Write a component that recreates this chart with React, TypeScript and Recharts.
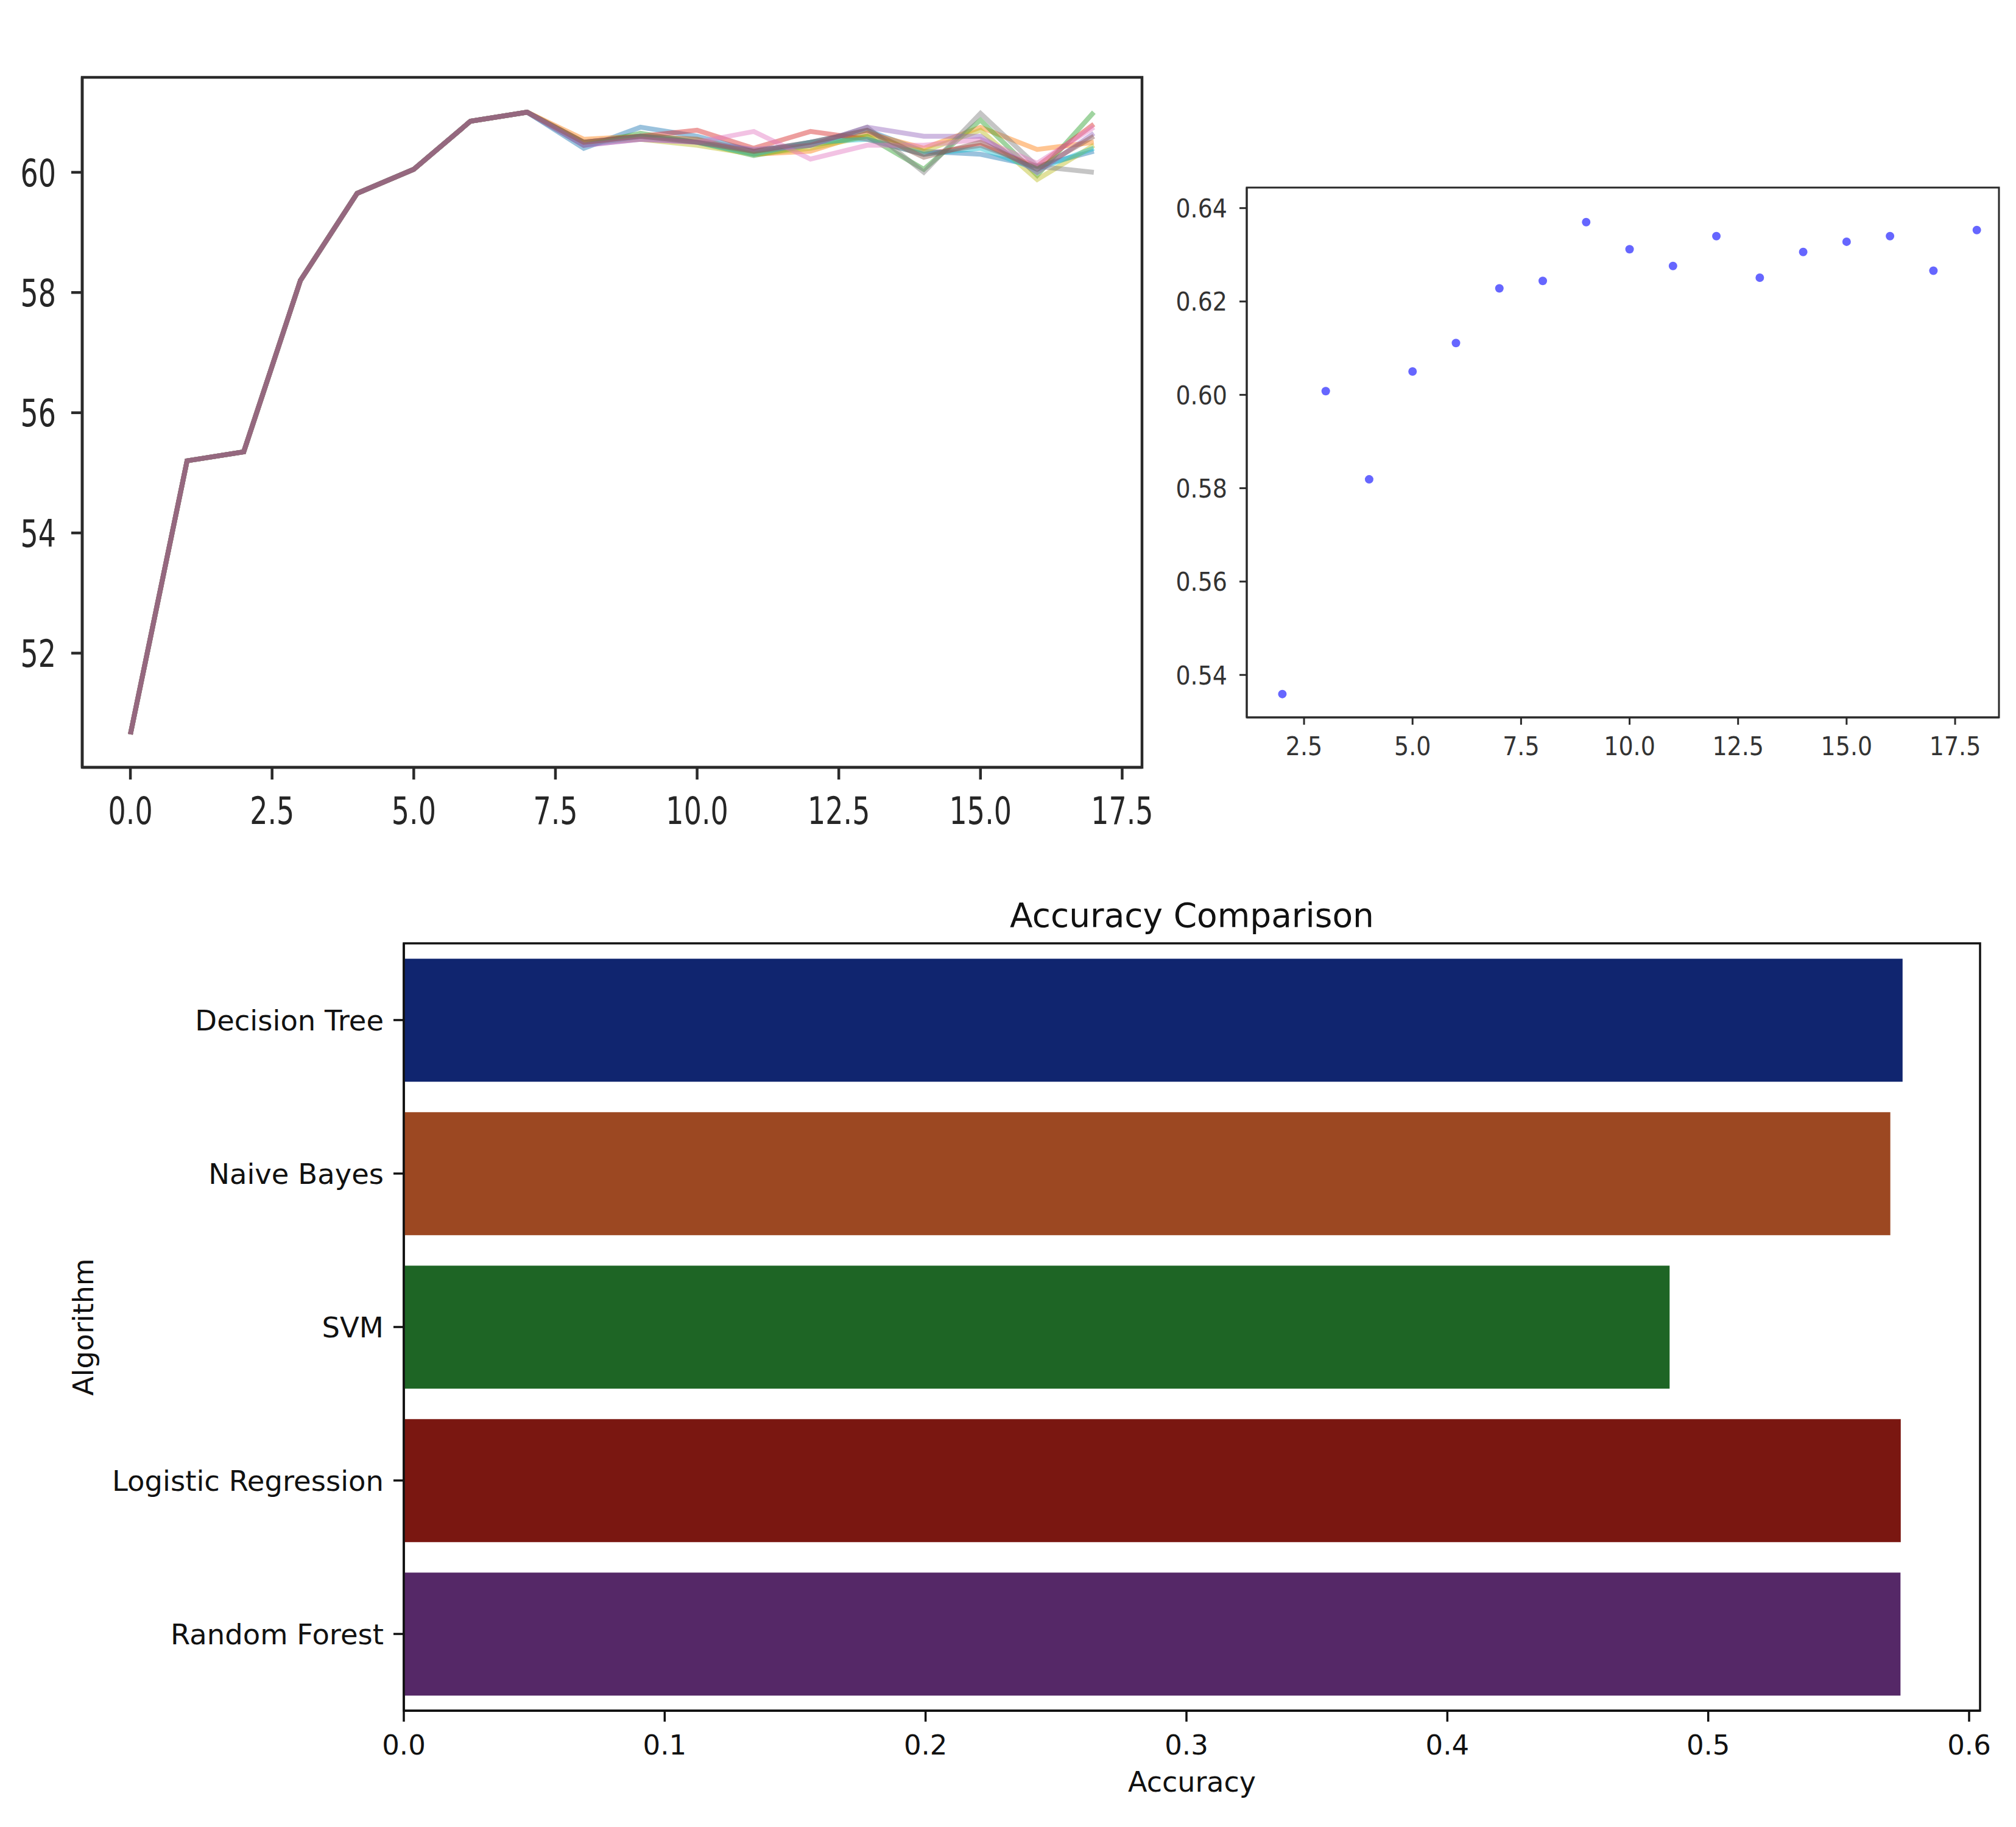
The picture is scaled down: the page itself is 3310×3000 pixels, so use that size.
import React from 'react'
import {
  LineChart, Line, ScatterChart, Scatter, BarChart, Bar, Cell,
  XAxis, YAxis, ReferenceArea,
} from 'recharts'

const FONT = '"DejaVu Sans", sans-serif'

// --- top left: score per step, one line per run ---
const steps = [0, 1, 2, 3, 4, 5, 6, 7, 8, 9, 10, 11, 12, 13, 14, 15, 16, 17]
const warmup = [50.65, 55.2, 55.35, 58.2, 59.65, 60.05, 60.85, 61.0]
const runBlue = [...warmup, 60.4, 60.75, 60.6, 60.35, 60.5, 60.7, 60.35, 60.3, 60.1, 60.35]
const runOrange = [...warmup, 60.55, 60.6, 60.55, 60.3, 60.35, 60.65, 60.4, 60.75, 60.38, 60.5]
const runGreen = [...warmup, 60.45, 60.65, 60.5, 60.28, 60.45, 60.6, 60.05, 60.87, 59.95, 61.0]
const runRed = [...warmup, 60.5, 60.6, 60.7, 60.4, 60.68, 60.55, 60.3, 60.45, 60.1, 60.8]
const runOlive = [...warmup, 60.5, 60.55, 60.45, 60.3, 60.4, 60.6, 60.35, 60.7, 59.88, 60.45]
const runCyan = [...warmup, 60.45, 60.6, 60.5, 60.3, 60.5, 60.55, 60.3, 60.4, 60.05, 60.4]
const runGray = [...warmup, 60.5, 60.6, 60.55, 60.35, 60.45, 60.75, 60.0, 60.98, 60.1, 60.0]
const runPurple = [...warmup, 60.45, 60.55, 60.5, 60.38, 60.45, 60.75, 60.6, 60.6, 60.0, 60.65]
const runPink = [...warmup, 60.45, 60.55, 60.5, 60.68, 60.22, 60.45, 60.45, 60.55, 60.15, 60.75]
const runBrown = [...warmup, 60.5, 60.6, 60.5, 60.35, 60.5, 60.7, 60.25, 60.5, 60.05, 60.6]
const runs = [runBlue, runOrange, runGreen, runRed, runOlive, runCyan, runGray, runPink, runPurple, runBrown]
const runColors = ['#1f77b4', '#ff7f0e', '#2ca02c', '#d62728', '#bcbd22', '#17becf', '#7f7f7f', '#e377c2', '#9467bd', '#8c564b']
const stepTicks = [0, 2.5, 5, 7.5, 10, 12.5, 15, 17.5]
const runScoreTicks = [52, 54, 56, 58, 60]
const stepDomain = [-0.85, 17.85]
const runScoreDomain = [50.1, 61.58]

// --- top right: score per depth ---
const depths = [2, 3, 4, 5, 6, 7, 8, 9, 10, 11, 12, 13, 14, 15, 16, 17, 18]
const depthScores = [0.5359, 0.6008, 0.5819, 0.605, 0.6111, 0.6228, 0.6244, 0.637, 0.6312, 0.6276, 0.634, 0.6251, 0.6306, 0.6328, 0.634, 0.6266, 0.6353]
const depthTicks = [2.5, 5, 7.5, 10, 12.5, 15, 17.5]
const depthScoreTicks = [0.54, 0.56, 0.58, 0.6, 0.62, 0.64]
const depthDomain = [1.18, 18.51]
const depthScoreDomain = [0.5309, 0.6444]

// --- bottom: accuracy comparison ---
const algorithms = ['Decision Tree', 'Naive Bayes', 'SVM', 'Logistic Regression', 'Random Forest']
const accuracies = [0.5745, 0.5698, 0.4852, 0.5738, 0.5737]
const algoColors = ['#10256f', '#9c4822', '#1e6525', '#7a1711', '#552867']
const accuracyTicks = [0, 0.1, 0.2, 0.3, 0.4, 0.5, 0.6]
const accuracyDomain = [0, 0.6042]

const runRows = steps.map((step, i) => {
  const row: Record<string, number> = { step }
  runs.forEach((r, k) => { row['run' + k] = r[i] })
  return row
})
const depthRows = depths.map((depth, i) => ({ depth, score: depthScores[i] }))
const accRows = algorithms.map((algorithm, i) => ({ algorithm, accuracy: accuracies[i] }))

// tick text, stretched vertically like the upscaled screenshot
const makeTick = (side: 'x' | 'y', fontSize: number, stretch: number, fmt: (v: number) => string, fill: string) =>
  (props: any) => {
    const { x, y, payload } = props
    return (
      <g transform={`translate(${x},${y}) scale(1,${stretch})`}>
        <text
          x={0}
          y={0}
          dy={side === 'x' ? '0.71em' : '0.36em'}
          textAnchor={side === 'x' ? 'middle' : 'end'}
          fontSize={fontSize}
          fontFamily={FONT}
          fill={fill}
        >
          {fmt(payload.value)}
        </text>
      </g>
    )
  }

const dot = (r: number, fill: string) => (p: any) => <circle cx={p.cx} cy={p.cy} r={r} fill={fill} />

export default function App() {
  const lineAxis = { stroke: '#2a2a2a', strokeWidth: 4.5 }
  const scatterAxis = { stroke: '#2a2a2a', strokeWidth: 3 }
  const barAxis = { stroke: '#111', strokeWidth: 3.5 }

  return (
    <div style={{ position: 'absolute', left: 0, top: 0, width: 3310, height: 3000, background: '#fff' }}>
      <div style={{ position: 'absolute', left: 0, top: 0 }}>
        <LineChart width={1900} height={1400} data={runRows} margin={{ top: 127, right: 25, bottom: 0, left: 0 }}>
          <XAxis
            dataKey="step"
            type="number"
            domain={stepDomain}
            allowDataOverflow
            ticks={stepTicks}
            interval={0}
            height={140}
            axisLine={lineAxis}
            tickLine={lineAxis}
            tickSize={20}
            tickMargin={28}
            tick={makeTick('x', 46, 1.37, (v) => v.toFixed(1), '#262626')}
          />
          <YAxis
            type="number"
            domain={runScoreDomain}
            allowDataOverflow
            ticks={runScoreTicks}
            interval={0}
            width={135}
            axisLine={lineAxis}
            tickLine={lineAxis}
            tickSize={18}
            tickMargin={25}
            tick={makeTick('y', 46, 1.37, (v) => String(v), '#262626')}
          />
          <ReferenceArea
            x1={stepDomain[0]} x2={stepDomain[1]} y1={runScoreDomain[0]} y2={runScoreDomain[1]}
            fill="none" stroke="#2a2a2a" strokeWidth={4.5} ifOverflow="visible"
          />
          {runs.map((_, k) => (
            <Line
              key={k}
              dataKey={'run' + k}
              type="linear"
              stroke={runColors[k]}
              strokeOpacity={0.45}
              strokeWidth={8}
              dot={false}
              isAnimationActive={false}
            />
          ))}
        </LineChart>
      </div>

      <div style={{ position: 'absolute', left: 1920, top: 260 }}>
        <ScatterChart width={1390} height={1000} margin={{ top: 48, right: 28, bottom: 0, left: 0 }}>
          <XAxis
            dataKey="depth"
            type="number"
            domain={depthDomain}
            allowDataOverflow
            ticks={depthTicks}
            interval={0}
            height={82}
            axisLine={scatterAxis}
            tickLine={scatterAxis}
            tickSize={12}
            tickMargin={20}
            tick={makeTick('x', 38, 1.12, (v) => v.toFixed(1), '#333')}
          />
          <YAxis
            dataKey="score"
            type="number"
            domain={depthScoreDomain}
            allowDataOverflow
            ticks={depthScoreTicks}
            interval={0}
            width={127}
            axisLine={scatterAxis}
            tickLine={scatterAxis}
            tickSize={12}
            tickMargin={20}
            tick={makeTick('y', 38, 1.12, (v) => v.toFixed(2), '#333')}
          />
          <ReferenceArea
            x1={depthDomain[0]} x2={depthDomain[1]} y1={depthScoreDomain[0]} y2={depthScoreDomain[1]}
            fill="none" stroke="#2a2a2a" strokeWidth={3} ifOverflow="visible"
          />
          <Scatter data={depthRows} fill="#6666ff" shape={dot(7, '#6666ff')} isAnimationActive={false} />
        </ScatterChart>
      </div>

      <div style={{ position: 'absolute', left: 0, top: 1420 }}>
        <BarChart
          layout="vertical"
          width={3310}
          height={1580}
          data={accRows}
          barCategoryGap="10%"
          margin={{ top: 129, right: 59, bottom: 0, left: 0 }}
        >
          <XAxis
            type="number"
            dataKey="accuracy"
            domain={accuracyDomain}
            allowDataOverflow
            ticks={accuracyTicks}
            interval={0}
            height={191}
            axisLine={barAxis}
            tickLine={barAxis}
            tickSize={18}
            tickMargin={22}
            tickFormatter={(v: number) => v.toFixed(1)}
            tick={{ fontSize: 45, fontFamily: FONT, fill: '#111' }}
          />
          <YAxis
            type="category"
            dataKey="algorithm"
            width={663}
            interval={0}
            axisLine={barAxis}
            tickLine={barAxis}
            tickSize={17}
            tickMargin={16}
            tick={{ fontSize: 46.5, fontFamily: FONT, fill: '#111' }}
          />
          <Bar dataKey="accuracy" isAnimationActive={false}>
            {accRows.map((_, i) => (
              <Cell key={i} fill={algoColors[i]} />
            ))}
          </Bar>
          <ReferenceArea
            x1={accuracyDomain[0]} x2={accuracyDomain[1]}
            fill="none" stroke="#111" strokeWidth={3.5} ifOverflow="visible"
          />
        </BarChart>
      </div>

      <svg width={3310} height={3000} style={{ position: 'absolute', left: 0, top: 0, pointerEvents: 'none' }}>
        <text x={1957} y={1503} textAnchor="middle" dominantBaseline="central" fontSize={55} fontFamily={FONT} fill="#111">
          Accuracy Comparison
        </text>
        <text x={1957} y={2926} textAnchor="middle" dominantBaseline="central" fontSize={46} fontFamily={FONT} fill="#111">
          Accuracy
        </text>
        <text
          x={137}
          y={2179}
          transform="rotate(-90 137 2179)"
          textAnchor="middle"
          dominantBaseline="central"
          fontSize={46}
          fontFamily={FONT}
          fill="#111"
        >
          Algorithm
        </text>
      </svg>
    </div>
  )
}
